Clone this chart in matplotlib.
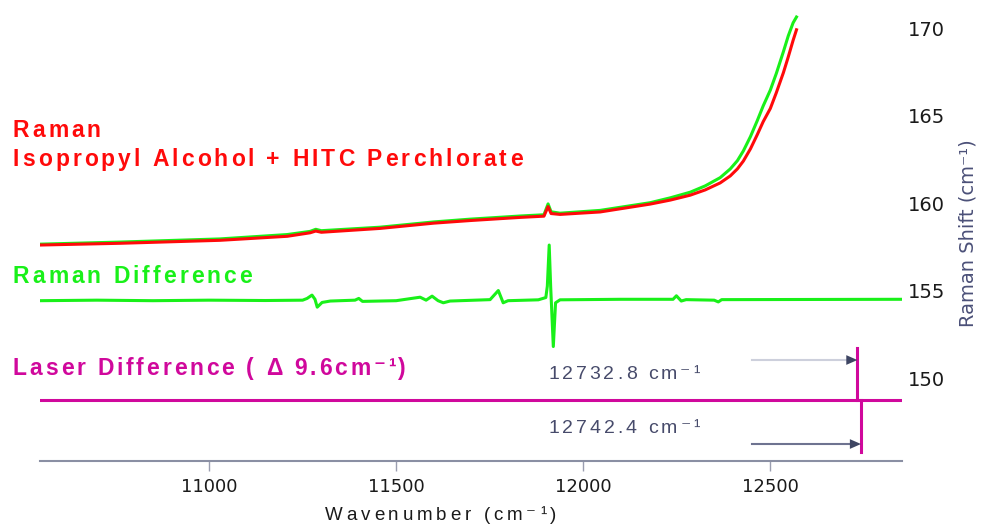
import numpy as np
import matplotlib.pyplot as plt
from matplotlib.transforms import IdentityTransform

# --- Spectra (wavenumber in cm-1, Raman shift in cm-1) ---
raman_wn = [10548, 10762, 11029, 11209, 11270, 11285, 11300, 11457, 11600, 11698,
            11832, 11895, 11906, 11914, 11938, 12045, 12179, 12233, 12286, 12326,
            12366, 12393, 12412, 12428, 12447, 12465, 12481, 12500, 12516, 12535,
            12548, 12561, 12570]
raman_red = [157.60, 157.70, 157.87, 158.10, 158.30, 158.40, 158.33, 158.55, 158.85, 159.00,
             159.18, 159.25, 159.80, 159.40, 159.35, 159.49, 159.94, 160.17, 160.45, 160.75,
             161.15, 161.55, 161.95, 162.40, 163.10, 163.90, 164.65, 165.40, 166.30, 167.45,
             168.35, 169.30, 169.90]
raman_green = [157.65, 157.77, 157.95, 158.20, 158.38, 158.50, 158.42, 158.62, 158.92, 159.08,
               159.26, 159.33, 159.95, 159.50, 159.42, 159.58, 160.02, 160.30, 160.62, 160.98,
               161.45, 161.95, 162.42, 162.98, 163.80, 164.70, 165.55, 166.45, 167.40, 168.65,
               169.55, 170.30, 170.63]

diff_wn = [10548, 10700, 10850, 11000, 11150, 11250, 11262, 11275, 11283, 11289,
           11302, 11324, 11390, 11400, 11410, 11500, 11564, 11580, 11596, 11612,
           11626, 11644, 11751, 11773, 11786, 11799, 11880, 11900, 11904, 11909,
           11913, 11920, 11926, 11938, 12100, 12240, 12249, 12262, 12275, 12350,
           12361, 12370, 12852]
diff_val = [154.42, 154.45, 154.42, 154.45, 154.43, 154.45, 154.55, 154.74, 154.50, 154.05,
            154.32, 154.40, 154.45, 154.55, 154.38, 154.42, 154.62, 154.45, 154.68, 154.42,
            154.30, 154.40, 154.48, 155.00, 154.30, 154.42, 154.47, 154.60, 155.25, 157.60,
            155.20, 151.80, 154.30, 154.47, 154.50, 154.50, 154.70, 154.40, 154.48, 154.45,
            154.35, 154.48, 154.50]

# --- Laser lines ---
laser_a = 12732.8
laser_b = 12742.4
laser_level = 148.74
laser_a_top = 151.71
laser_b_bottom = 145.79
arrow_start = 12451
arrow_a_y = 151.03
arrow_b_y = 146.23

xticks = [11000, 11500, 12000, 12500]
yticks = [150, 155, 160, 165, 170]

RED = '#ff0a0a'
GREEN = '#19f019'
MAGENTA = '#d0089c'
SLATE = '#474b6b'

W, H = 982, 527
fig = plt.figure(figsize=(W / 100, H / 100), dpi=100)
ax = fig.add_axes([40 / W, 66 / H, 862 / W, 451 / H])

ax.plot(raman_wn, raman_green, color=GREEN, lw=2.2, solid_joinstyle='round')
ax.plot(raman_wn, raman_red, color=RED, lw=2.2, solid_joinstyle='round')
ax.plot(diff_wn, diff_val, color=GREEN, lw=2.2, solid_joinstyle='round')

ax.axhline(laser_level, color=MAGENTA, lw=2.2)
ax.plot([laser_a, laser_a], [laser_level, laser_a_top], color=MAGENTA, lw=2.2)
ax.plot([laser_b, laser_b], [laser_b_bottom, laser_level], color=MAGENTA, lw=2.2)

# arrows pointing at the two laser lines
for tip, y, shaft in [(laser_a, arrow_a_y, '#cdd0dc'), (laser_b, arrow_b_y, '#6e7390')]:
    ax.plot([arrow_start, tip - 20], [y, y], color=shaft, lw=1.5)
    ax.annotate('', xy=(tip, y), xytext=(tip - 60, y),
                arrowprops=dict(arrowstyle='-|>,head_length=0.8,head_width=0.35',
                                color='#3e4563', lw=0, shrinkA=0, shrinkB=0))

ax.set_xlim(10548, 12852)
ax.set_ylim(145.26, 171.03)
for side in ['top', 'left', 'right']:
    ax.spines[side].set_visible(False)
ax.spines['bottom'].set_color('#8a8fa3')
ax.spines['bottom'].set_linewidth(1.5)

ax.set_xticks(xticks)
ax.tick_params(axis='x', direction='out', length=7, width=1, color='#9a9eb0',
               pad=5, labelsize=13, labelcolor='#1a1a1a')
ax.yaxis.tick_right()
ax.set_yticks(yticks)
ax.tick_params(axis='y', length=0, pad=4, labelsize=14, labelcolor='#1a1a1a')

renderer = fig.canvas.get_renderer()


def spaced_text(x, y, s, gap, **kw):
    # one glyph at a time so the tracking can be widened; x, y in pixels from top-left
    def width(txt):
        t = fig.text(0, 0, txt, transform=IdentityTransform(), **kw)
        w = t.get_window_extent(renderer).width
        t.remove()
        return w
    base = width('XX')
    for ch in s:
        fig.text(x, H - y, ch, transform=IdentityTransform(), ha='left', va='baseline', **kw)
        x += width('X' + ch + 'X') - base + gap


label_font = dict(family=['Liberation Sans', 'DejaVu Sans'], weight='bold', fontsize=16.5)
spaced_text(13, 137, 'Raman', 3.0, color=RED, **label_font)
spaced_text(13, 166, 'Isopropyl Alcohol + HITC Perchlorate', 3.0, color=RED, **label_font)
spaced_text(13, 283, 'Raman Difference', 3.0, color=GREEN, **label_font)
spaced_text(13, 375, 'Laser Difference ( \u0394 9.6cm\u207b\u00b9)', 2.8, color=MAGENTA, **label_font)

note_font = dict(family=['Liberation Sans', 'DejaVu Sans'], fontsize=14, color=SLATE)
spaced_text(548, 379, f'{laser_a} cm\u207b\u00b9', 3, **note_font)
spaced_text(548, 433, f'{laser_b} cm\u207b\u00b9', 3, **note_font)

spaced_text(325, 520, 'Wavenumber (cm\u207b\u00b9)', 3.8,
            family=['Liberation Sans', 'DejaVu Sans'], fontsize=13.5, color='#1a1a1a')

fig.text(968 / W, 1 - 233 / H, 'Raman Shift (cm\u207b\u00b9)', rotation=90,
         ha='center', va='center', fontsize=14, color='#4b5078')

fig.savefig('out.png', dpi=100)
